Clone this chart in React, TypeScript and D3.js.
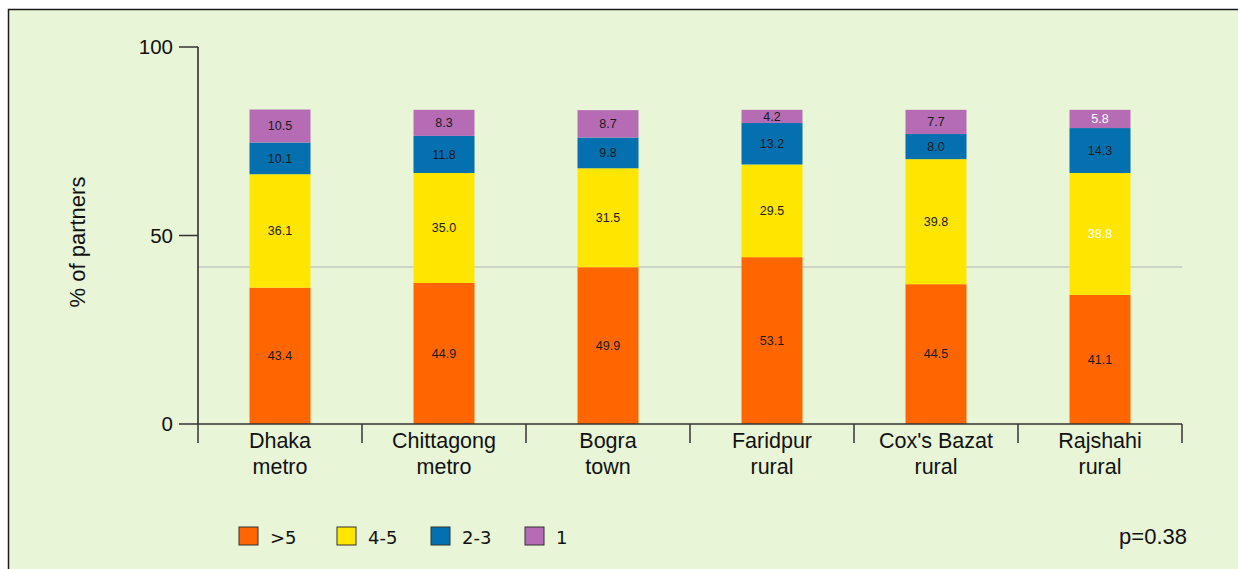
import React from "react";
import * as d3 from "d3";

const categories = [
  ["Dhaka", "metro"],
  ["Chittagong", "metro"],
  ["Bogra", "town"],
  ["Faridpur", "rural"],
  ["Cox's Bazat", "rural"],
  ["Rajshahi", "rural"],
];
const seriesNames = [">5", "4-5", "2-3", "1"];
const vGt5 = [43.4, 44.9, 49.9, 53.1, 44.5, 41.1];
const v4to5 = [36.1, 35.0, 31.5, 29.5, 39.8, 38.8];
const v2to3 = [10.1, 11.8, 9.8, 13.2, 8.0, 14.3];
const v1 = [10.5, 8.3, 8.7, 4.2, 7.7, 5.8];
const yTicks = [0, 50, 100];
const refLine = 50;
const pValue = "p=0.38";

const colors = ["#ff6600", "#ffe600", "#0570b0", "#b56cb5"];
const font = "'Liberation Sans', Arial, sans-serif";
const wideFont = "'DejaVu Sans', Verdana, sans-serif";

export default function App() {
  const W = 1238, H = 569;
  const left = 198, right = 1182, top = 47, bottom = 424;
  const series = [vGt5, v4to5, v2to3, v1];
  const x = d3.scaleBand().domain(categories.map((c) => c.join(" "))).range([left, right]).paddingInner(0).paddingOuter(0);
  const yAxis = d3.scaleLinear().domain([0, 100]).range([bottom, top]);
  const yBar = d3.scaleLinear().domain([0, 120]).range([bottom, top]);
  const barW = 61;
  const rows = categories.map((c, i) => {
    const o: any = { key: c.join(" ") };
    seriesNames.forEach((s, j) => (o[s] = series[j][i]));
    return o;
  });
  const stack = d3.stack().keys(seriesNames)(rows as any);
  const whiteLabel = (si: number, ci: number) => ci === 5 && (si === 1 || si === 3);

  return (
    <svg width={W} height={H} style={{ position: "absolute", left: 0, top: 0 }} fontFamily={font}>
      <rect x={8.5} y={9.5} width={W} height={H} fill="#e8f5d6" stroke="#1a1a1a" strokeWidth={1.5} />
      {/* reference line */}
      <line x1={left} x2={right} y1={yBar(refLine)} y2={yBar(refLine)} stroke="#c4c8c0" strokeWidth={1.5} />
      {/* bars */}
      {stack.map((layer, si) =>
        layer.map((d, ci) => {
          const cx = x(rows[ci].key)! + x.bandwidth() / 2;
          const y0 = yBar(d[1]);
          const y1 = yBar(d[0]);
          return (
            <g key={`${si}-${ci}`}>
              <rect x={cx - barW / 2} y={y0} width={barW} height={y1 - y0} fill={colors[si]} />
              <text x={cx} y={(y0 + y1) / 2} dy="0.35em" textAnchor="middle" fontSize={12.5} fill={whiteLabel(si, ci) ? "#ffffff" : "#1a1a1a"}>
                {series[si][ci].toFixed(1)}
              </text>
            </g>
          );
        })
      )}
      {/* y axis */}
      <line x1={left} x2={left} y1={top} y2={bottom} stroke="#222" strokeWidth={1.5} />
      {yTicks.map((t) => (
        <g key={t}>
          <line x1={179} x2={left} y1={yAxis(t)} y2={yAxis(t)} stroke="#333" strokeWidth={1.5} />
          <text x={173} y={yAxis(t)} dy="0.35em" textAnchor="end" fontSize={20.5} fill="#111">{t}</text>
        </g>
      ))}
      {/* x axis */}
      <line x1={left} x2={right} y1={bottom} y2={bottom} stroke="#333" strokeWidth={1.5} />
      {[...categories.map((c) => x(c.join(" "))!), right].map((bx, i) => (
        <line key={i} x1={bx} x2={bx} y1={bottom} y2={443} stroke="#333" strokeWidth={1.5} />
      ))}
      {categories.map((c) => {
        const cx = x(c.join(" "))! + x.bandwidth() / 2;
        return (
          <text key={c.join(" ")} x={cx} textAnchor="middle" fontSize={21.5} fill="#111">
            <tspan x={cx} y={448}>{c[0]}</tspan>
            <tspan x={cx} y={474}>{c[1]}</tspan>
          </text>
        );
      })}
      <text transform="translate(85,242) rotate(-90)" textAnchor="middle" fontSize={22} fill="#111">% of partners</text>
      {/* legend */}
      {seriesNames.map((s, i) => {
        const lx = [239, 337, 431, 525][i];
        return (
          <g key={s}>
            <rect x={lx} y={527} width={19} height={18} fill={colors[i]} stroke="#333" strokeWidth={1} />
            <text x={lx + 31} y={544} fontSize={18} fontFamily={wideFont} fill="#111">{s}</text>
          </g>
        );
      })}
      <text x={1187} y={544} textAnchor="end" fontSize={22} fill="#111">{pValue}</text>
    </svg>
  );
}
